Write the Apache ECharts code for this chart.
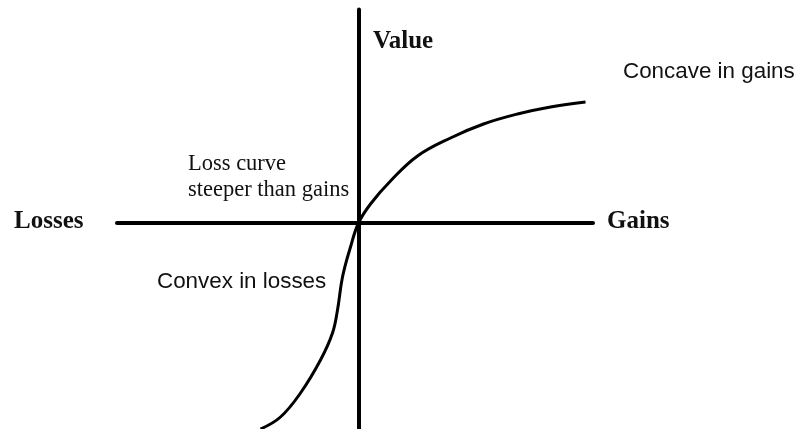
<!DOCTYPE html>
<html>
<head>
<meta charset="utf-8">
<script src="https://cdn.jsdelivr.net/npm/echarts@6/dist/echarts.min.js"></script>
<style>
    html, body {margin: 0; padding: 0; background: #fff;}
    #chart {width: 800px; height: 429px;}
</style>
</head>
<body>
<div id="chart"></div>
<script>
// value function (x = gain/loss, y = value)
var gainX = [0, 1.2, 3.2, 5.9, 9.2, 12.5, 15.9, 19.2, 22.7];
var gainY = [0, 1.9, 4.2, 6.7, 8.5, 9.9, 10.9, 11.6, 12.1];
var lossX = [-9.8, -7.8, -5.8, -3.8, -2.6, -2.1, -1.6, -0.8, 0];
var lossY = [-20.6, -19.4, -17.0, -13.7, -11.0, -8.7, -5.4, -2.4, 0];

var xMin = -24.15, xMax = 23.45;
var yMin = -20.6, yMax = 21.35;

(function () {
    var curve = [];
    lossX.forEach(function (x, i) {
        curve.push([x, lossY[i]]);
    });
    gainX.forEach(function (x, i) {
        if (i > 0) curve.push([x, gainY[i]]);
    });

    var serif = '"Liberation Serif", "DejaVu Serif", serif';
    var sans = '"Liberation Sans", Arial, sans-serif';
    var ink = '#111';

    var myChart = echarts.init(document.getElementById('chart'));
    var option = {
        animation: false,
        backgroundColor: '#fff',
        grid: {left: 117, right: 207, top: 9.5, bottom: 0},
        xAxis: {
            type: 'value', min: xMin, max: xMax,
            axisLine: {show: true, onZero: true, lineStyle: {color: '#000', width: 4}},
            axisTick: {show: false}, axisLabel: {show: false}, splitLine: {show: false}
        },
        yAxis: {
            type: 'value', min: yMin, max: yMax,
            axisLine: {show: true, onZero: true, lineStyle: {color: '#000', width: 4}},
            axisTick: {show: false}, axisLabel: {show: false}, splitLine: {show: false}
        },
        series: [{
            type: 'line',
            data: curve,
            smooth: 0.4,
            showSymbol: false,
            lineStyle: {color: '#000', width: 3},
            z: 3
        }],
        graphic: [
            {type: 'text', left: 373, top: 29, style: {text: 'Value', font: 'bold 25px ' + serif, fill: ink}},
            {type: 'text', left: 14, top: 209, style: {text: 'Losses', font: 'bold 25px ' + serif, fill: ink}},
            {type: 'text', left: 607, top: 209, style: {text: 'Gains', font: 'bold 25px ' + serif, fill: ink}},
            {type: 'text', left: 188, top: 151, style: {text: 'Loss curve\nsteeper than gains', font: '22.5px ' + serif, lineHeight: 26, fill: ink}},
            {type: 'text', left: 623, top: 61, style: {text: 'Concave in gains', font: '22.4px ' + sans, fill: ink}},
            {type: 'text', left: 157, top: 271, style: {text: 'Convex in losses', font: '22.4px ' + sans, fill: ink}}
        ]
    };
    myChart.setOption(option);
})();
</script>
</body>
</html>
